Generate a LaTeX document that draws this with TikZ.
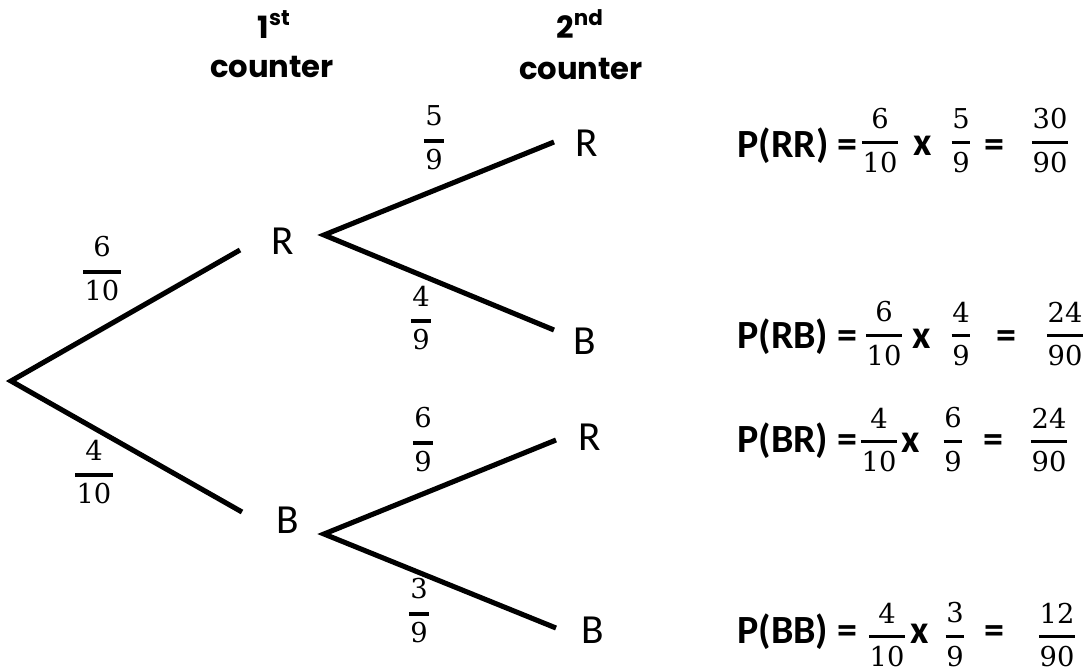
\documentclass[tikz,border=0pt]{standalone}
\usepackage{fontspec}
\newfontfamily\labfont{Carlito}
\newfontfamily\headfont{Poppins}
\newfontfamily\numfont{DejaVu Serif}
\newdimen\frW
\def\frga{9pt}\def\frgb{6pt}\def\frth{2.2pt}\def\frext{1pt}
\newcommand{\fr}[2]{{\setbox0\hbox{#1}\setbox2\hbox{#2}%
  \frW=\wd0 \ifdim\wd2>\frW \frW=\wd2\fi \advance\frW by \frext\relax
  \hbox{\vbox{\hbox to\frW{\hfil\box0\hfil}\kern\frga\hrule height\frth width\frW}%
    \kern-\frW
    \vtop{\kern\frgb\hbox to\frW{\hfil\box2\hfil}}}}}
\begin{document}
\begin{tikzpicture}[x=0.75pt,y=-0.75pt,
  branch/.style={line width=3.8pt},
  outcome/.style={font=\labfont\fontsize{31}{33}\selectfont, inner sep=0pt},
  prob/.style={font=\numfont\fontsize{20.5}{24}\selectfont, inner sep=0pt, anchor=base,
    execute at begin node={\def\frga{9.5pt}\def\frgb{4.5pt}\def\frth{3pt}\def\frext{2pt}}},
  head/.style={font=\headfont\bfseries\fontsize{23}{27}\selectfont, inner sep=0pt, anchor=base},
  eqlab/.style={font=\labfont\bfseries\fontsize{30}{32}\selectfont, inner sep=0pt, anchor=base west},
  eqsym/.style={font=\labfont\bfseries\fontsize{30}{32}\selectfont, inner sep=0pt, anchor=base},
  eqfrac/.style={font=\numfont\fontsize{20.5}{24}\selectfont, inner sep=0pt, anchor=base,
    execute at begin node={\def\frga{9pt}\def\frgb{6pt}\def\frth{2.2pt}\def\frext{1pt}}},
]
\useasboundingbox (0,0) rectangle (1087,671);

% headers
\node[head] (h1a) at (274,38) {1\textsuperscript{st}};
\node[head] (h1b) at (272,77) {counter};
\node[head] (h2a) at (580,38) {2\textsuperscript{nd}};
\node[head] (h2b) at (581,79) {counter};

% tree coordinates
\coordinate (root) at (11,381);
\coordinate (r1end) at (240,250);
\coordinate (b1end) at (242,512);
\coordinate (rv) at (324,235);
\coordinate (bv) at (324,534);
\coordinate (rrend) at (554,142);
\coordinate (rbend) at (554,330);
\coordinate (brend) at (556,440);
\coordinate (bbend) at (556,628);

% branches
\draw[branch] (r1end) -- (root) -- (b1end);
\draw[branch] (rrend) -- (rv) -- (rbend);
\draw[branch] (brend) -- (bv) -- (bbend);

% outcome labels
\node[outcome] (R1) at (283,241) {R};
\node[outcome] (B1) at (288,520) {B};
\node[outcome] (RR) at (587,143) {R};
\node[outcome] (RB) at (585,341) {B};
\node[outcome] (BR) at (590,437) {R};
\node[outcome] (BB) at (593,630) {B};

% branch probabilities (anchor base = bottom of bar)
\node[prob] (p610) at (102,274) {\fr{6}{10}};
\node[prob] (p410) at (94,477) {\fr{4}{10}};
\node[prob] (p59) at (434,143) {\fr{5}{9}};
\node[prob] (p49) at (421,323) {\fr{4}{9}};
\node[prob] (p69) at (423,445) {\fr{6}{9}};
\node[prob] (p39) at (419,616) {\fr{3}{9}};

% equations
\node[eqlab] (e1) at (737,157) {P(RR) =};
\node[eqfrac] (e1a) at (880,144) {\fr{6}{10}};
\node[eqsym] (e1x) at (923,155) {x};
\node[eqfrac] (e1b) at (961,144) {\fr{5}{9}};
\node[eqsym] (e1e) at (994,157) {=};
\node[eqfrac] (e1c) at (1050,144) {\fr{30}{90}};

\node[eqlab] (e2) at (737,348) {P(RB) =};
\node[eqfrac] (e2a) at (884,337) {\fr{6}{10}};
\node[eqsym] (e2x) at (922,348) {x};
\node[eqfrac] (e2b) at (961,337) {\fr{4}{9}};
\node[eqsym] (e2e) at (1006,348) {=};
\node[eqfrac] (e2c) at (1065,337) {\fr{24}{90}};

\node[eqlab] (e3) at (737,452) {P(BR) =};
\node[eqfrac] (e3a) at (879,443) {\fr{4}{10}};
\node[eqsym] (e3x) at (911,452) {x};
\node[eqfrac] (e3b) at (953,443) {\fr{6}{9}};
\node[eqsym] (e3e) at (993,452) {=};
\node[eqfrac] (e3c) at (1049,443) {\fr{24}{90}};

\node[eqlab] (e4) at (737,643) {P(BB) =};
\node[eqfrac] (e4a) at (887,638) {\fr{4}{10}};
\node[eqsym] (e4x) at (920,643) {x};
\node[eqfrac] (e4b) at (955,638) {\fr{3}{9}};
\node[eqsym] (e4e) at (994,643) {=};
\node[eqfrac] (e4c) at (1057,638) {\fr{12}{90}};
\end{tikzpicture}
\end{document}
